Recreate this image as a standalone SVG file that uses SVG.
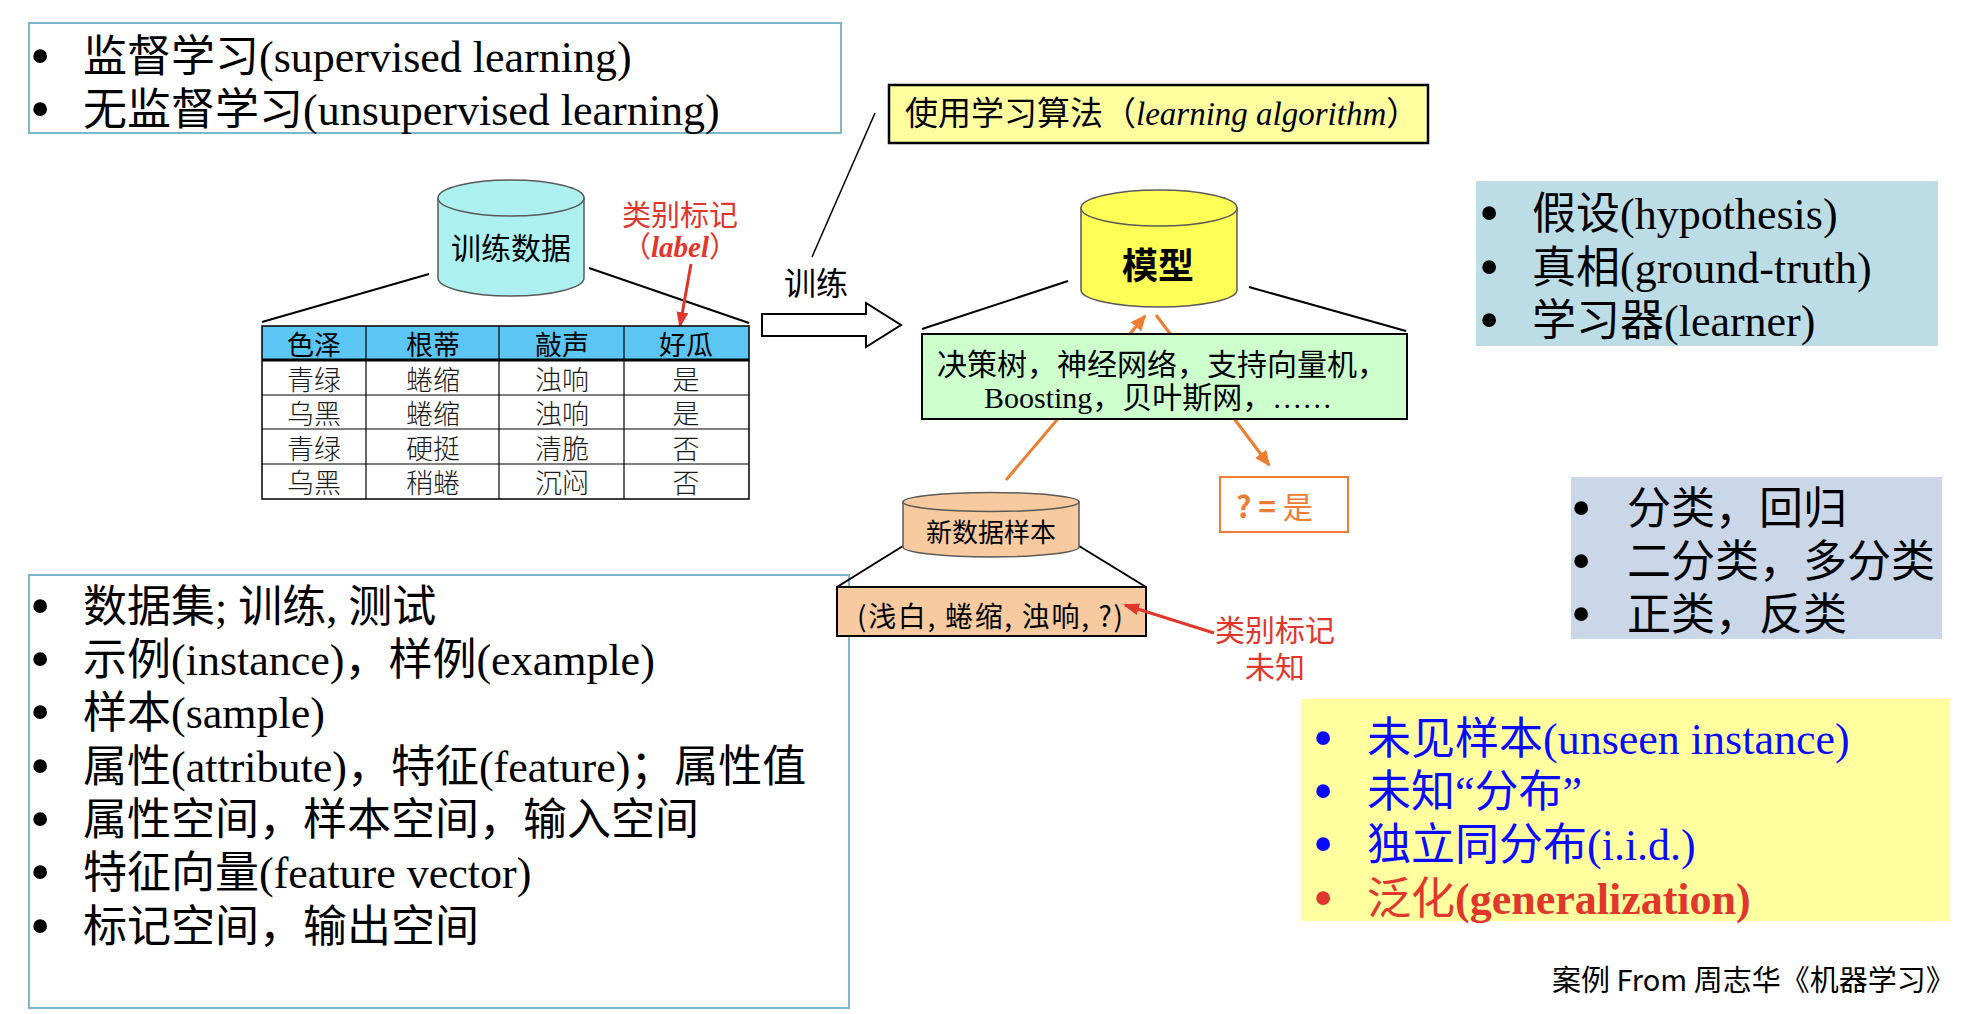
<svg xmlns="http://www.w3.org/2000/svg" width="1968" height="1014" viewBox="0 0 1968 1014">
<style>
text { font-family: "Liberation Serif", "Noto Sans CJK SC", serif; fill: #000; }
.list { font-size: 44px; }
.bul { font-size: 58px; }
.sans { font-family: "Noto Sans CJK SC", "Liberation Sans", sans-serif; }
.serif { font-family: "Liberation Serif", "Noto Sans CJK SC", serif; }
.lbox { fill: #ffffff; stroke: #7db7cd; stroke-width: 2; }
.zl { stroke: #000; stroke-width: 2; fill: none; }
.cyl { stroke: #5a5a5a; stroke-width: 1.5; }
.th { font-family: "Noto Sans CJK SC", sans-serif; font-size: 27px; text-anchor: middle; }
.td { font-family: "Noto Sans CJK SC", sans-serif; font-size: 27px; text-anchor: middle; font-weight: 300; fill: #1a1a1a; }
.grid { stroke: #000; stroke-width: 1.2; }
.red { fill: #e0362b; }
.blue { fill: #0a0aff; }
.orange { stroke: #ed7d31; stroke-width: 3; fill: none; }
</style>
<defs>
<marker id="arrRed" viewBox="0 0 16 12" refX="14" refY="6" markerWidth="16" markerHeight="12" markerUnits="userSpaceOnUse" orient="auto">
<path d="M0,0 L16,6 L0,12 z" fill="#e0362b"/>
</marker>
<marker id="arrOrange" viewBox="0 0 16 14" refX="14" refY="7" markerWidth="16" markerHeight="14" markerUnits="userSpaceOnUse" orient="auto">
<path d="M0,0 L16,7 L0,14 z" fill="#ed7d31"/>
</marker>
</defs>
<rect x="0" y="0" width="1968" height="1014" fill="#ffffff"/>

<!-- list boxes -->
<g id="box-learning-types">
<rect class="lbox" x="29" y="23" width="812" height="110"/>
<text class="bul" x="30" y="75">•</text>
<text class="list" x="83" y="72">监督学习(supervised learning)</text>
<text class="bul" x="30" y="128">•</text>
<text class="list" x="83" y="125">无监督学习(unsupervised learning)</text>
</g>

<g id="box-terms">
<rect class="lbox" x="29" y="575" width="820" height="433"/>
<text class="bul" x="30" y="625">•</text>
<text class="list" x="83" y="622">数据集; 训练, 测试</text>
<text class="bul" x="30" y="678">•</text>
<text class="list" x="83" y="675">示例(instance)，样例(example)</text>
<text class="bul" x="30" y="731">•</text>
<text class="list" x="83" y="728">样本(sample)</text>
<text class="bul" x="30" y="785">•</text>
<text class="list" x="83" y="782">属性(attribute)，特征(feature)；属性值</text>
<text class="bul" x="30" y="838">•</text>
<text class="list" x="83" y="835">属性空间，样本空间，输入空间</text>
<text class="bul" x="30" y="891">•</text>
<text class="list" x="83" y="888">特征向量(feature vector)</text>
<text class="bul" x="30" y="945">•</text>
<text class="list" x="83" y="942">标记空间，输出空间</text>
</g>

<g id="box-hypothesis">
<rect x="1476" y="181" width="462" height="165" fill="#bddde6"/>
<text class="bul" x="1479" y="232">•</text>
<text class="list" x="1532" y="229">假设(hypothesis)</text>
<text class="bul" x="1479" y="286">•</text>
<text class="list" x="1532" y="283">真相(ground-truth)</text>
<text class="bul" x="1479" y="339">•</text>
<text class="list" x="1532" y="336">学习器(learner)</text>
</g>

<g id="box-classification">
<rect x="1571" y="477" width="371" height="162" fill="#c9d7e9"/>
<text class="bul" x="1571" y="527">•</text>
<text class="list" x="1627" y="524">分类，回归</text>
<text class="bul" x="1571" y="580">•</text>
<text class="list" x="1627" y="577">二分类，多分类</text>
<text class="bul" x="1571" y="633">•</text>
<text class="list" x="1627" y="630">正类，反类</text>
</g>

<g id="box-generalization">
<rect x="1301" y="699" width="648" height="222" fill="#ffff9f"/>
<text class="bul blue" x="1313" y="757">•</text>
<text class="list blue" x="1367" y="754">未见样本(unseen instance)</text>
<text class="bul blue" x="1313" y="810">•</text>
<text class="list blue" x="1367" y="807">未知“分布”</text>
<text class="bul blue" x="1313" y="863">•</text>
<text class="list blue" x="1367" y="860">独立同分布(i.i.d.)</text>
<text class="bul red" x="1313" y="917">•</text>
<text class="list red" x="1367" y="914">泛化<tspan font-weight="bold">(generalization)</tspan></text>
</g>

<g id="node-sample-vector">
<rect x="837" y="587" width="309" height="49" fill="#f7cb9f" stroke="#000" stroke-width="2"/>
<text class="sans" x="857" y="627" font-size="28" textLength="266" lengthAdjust="spacing">(浅白, 蜷缩, 浊响, ?)</text>
</g>

<g id="node-unknown-label">
<text class="sans red" x="1275" y="641" font-size="30" text-anchor="middle">类别标记</text>
<text class="sans red" x="1275" y="678" font-size="30" text-anchor="middle">未知</text>
</g>

<!-- connectors -->
<g id="connectors">
<line class="zl" x1="429" y1="274" x2="262" y2="322"/>
<line class="zl" x1="589" y1="268" x2="749" y2="323"/>
<line class="zl" x1="1068" y1="281" x2="922" y2="329"/>
<line class="zl" x1="1249" y1="287" x2="1406" y2="331"/>
<line class="zl" x1="903" y1="546" x2="837" y2="587"/>
<line class="zl" x1="1079" y1="546" x2="1146" y2="587"/>
<line x1="875" y1="113" x2="812" y2="257" stroke="#000" stroke-width="1.5"/>
<polygon points="762,314 866,314 866,303 901,325 866,347 866,336 762,336" fill="#ffffff" stroke="#000" stroke-width="2"/>
<line class="orange" x1="1006" y1="480" x2="1145" y2="316" marker-end="url(#arrOrange)"/>
<line class="orange" x1="1156" y1="315" x2="1269" y2="465" marker-end="url(#arrOrange)"/>
<line x1="691" y1="264" x2="680" y2="326" stroke="#e0362b" stroke-width="3" marker-end="url(#arrRed)"/>
<line x1="1214" y1="633" x2="1125" y2="605" stroke="#e0362b" stroke-width="3" marker-end="url(#arrRed)"/>
</g>

<!-- training data cylinder -->
<g id="node-training-data">
<path class="cyl" d="M438,198 V278 A73,18 0 0 0 584,278 V198 Z" fill="#adf0f0"/>
<ellipse class="cyl" cx="511" cy="198" rx="73" ry="18" fill="#adf0f0"/>
<text class="sans" x="511" y="259" font-size="30" text-anchor="middle">训练数据</text>
</g>

<g id="node-label-note">
<text class="sans red" x="622" y="226" font-size="29">类别标记</text>
<text x="622" y="257" font-size="29" class="red"><tspan class="sans">（</tspan><tspan class="serif" font-style="italic" font-weight="bold">label</tspan><tspan class="sans">）</tspan></text>
</g>

<g id="node-table">
<rect x="262" y="326" width="487" height="34" fill="#5bc6f4"/>
<line class="grid" x1="262" y1="395" x2="749" y2="395"/>
<line class="grid" x1="262" y1="429" x2="749" y2="429"/>
<line class="grid" x1="262" y1="464" x2="749" y2="464"/>
<line class="grid" x1="366" y1="326" x2="366" y2="499"/>
<line class="grid" x1="499" y1="326" x2="499" y2="499"/>
<line class="grid" x1="624" y1="326" x2="624" y2="499"/>
<rect x="262" y="326" width="487" height="173" fill="none" stroke="#000" stroke-width="1.5"/>
<line x1="262" y1="360" x2="749" y2="360" stroke="#000" stroke-width="3"/>
<text class="th" x="314" y="355">色泽</text>
<text class="th" x="433" y="355">根蒂</text>
<text class="th" x="562" y="355">敲声</text>
<text class="th" x="686" y="355">好瓜</text>
<text class="td" x="314" y="390">青绿</text>
<text class="td" x="433" y="390">蜷缩</text>
<text class="td" x="562" y="390">浊响</text>
<text class="td" x="686" y="390">是</text>
<text class="td" x="314" y="424">乌黑</text>
<text class="td" x="433" y="424">蜷缩</text>
<text class="td" x="562" y="424">浊响</text>
<text class="td" x="686" y="424">是</text>
<text class="td" x="314" y="459">青绿</text>
<text class="td" x="433" y="459">硬挺</text>
<text class="td" x="562" y="459">清脆</text>
<text class="td" x="686" y="459">否</text>
<text class="td" x="314" y="493">乌黑</text>
<text class="td" x="433" y="493">稍蜷</text>
<text class="td" x="562" y="493">沉闷</text>
<text class="td" x="686" y="493">否</text>
</g>

<g id="node-train-label">
<text class="sans" x="816" y="295" font-size="32" text-anchor="middle">训练</text>
</g>

<g id="node-algorithm">
<rect x="889" y="85" width="539" height="58" fill="#ffff9f" stroke="#000" stroke-width="2.5"/>
<text x="905" y="125" font-size="33"><tspan class="sans">使用学习算法（</tspan><tspan class="serif" font-style="italic">learning algorithm</tspan><tspan class="sans">）</tspan></text>
</g>

<g id="node-model">
<path class="cyl" d="M1081,208 V290 A78,17 0 0 0 1237,290 V208 Z" fill="#ffff55"/>
<ellipse class="cyl" cx="1159" cy="208" rx="78" ry="18" fill="#ffff55"/>
<text class="sans" x="1158" y="279" font-size="36" font-weight="bold" text-anchor="middle">模型</text>
</g>

<g id="node-models-list">
<rect x="922" y="334" width="485" height="85" fill="#ccffcc" stroke="#000" stroke-width="2"/>
<text class="sans" x="937" y="375" font-size="30">决策树，神经网络，支持向量机，</text>
<text x="984" y="408" font-size="30"><tspan class="serif">Boosting</tspan><tspan class="sans">，贝叶斯网，</tspan><tspan class="serif">……</tspan></text>
</g>

<g id="node-result">
<rect x="1220" y="477" width="128" height="55" fill="#ffffff" stroke="#ed7d31" stroke-width="2"/>
<text class="sans" x="1236" y="518" font-size="30" style="fill:#ed7d31"><tspan font-weight="bold">? =</tspan> 是</text>
</g>

<g id="node-new-sample">
<path class="cyl" d="M903,502 V547 A88,10 0 0 0 1079,547 V502 Z" fill="#f7cb9f"/>
<ellipse class="cyl" cx="991" cy="502" rx="88" ry="9.5" fill="#f7cb9f"/>
<text class="sans" x="991" y="542" font-size="26" text-anchor="middle">新数据样本</text>
</g>

<g id="node-footer">
<text class="sans" x="1552" y="991" font-size="29">案例 From 周志华《机器学习》</text>
</g>
</svg>
